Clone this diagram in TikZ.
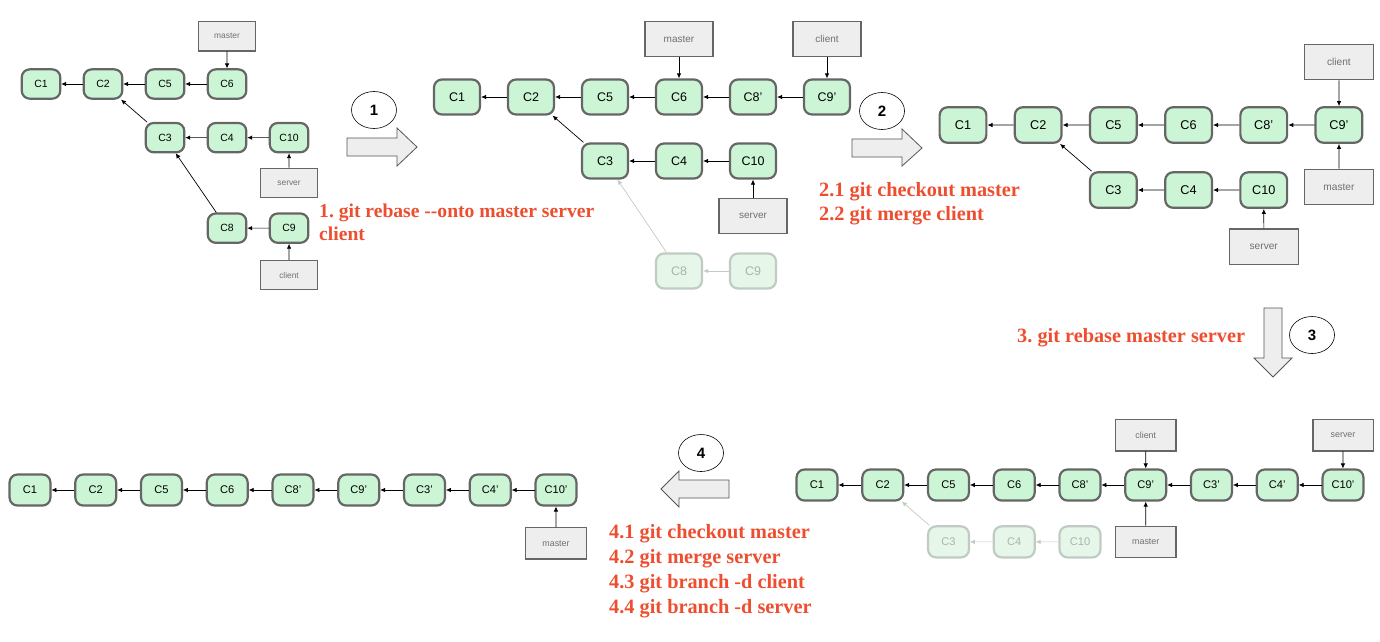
\documentclass[tikz,border=0pt]{standalone}
\usepackage{fontspec}
\setmainfont{Liberation Serif}
\setsansfont{Liberation Sans}
\usepackage{tikz}
\usetikzlibrary{shapes,arrows,arrows.meta,positioning,calc}
\usepackage{xcolor}
\frenchspacing
\definecolor{commitfill}{RGB}{203,245,212}
\definecolor{commitline}{RGB}{102,102,102}
\definecolor{ghostfill}{RGB}{230,246,233}
\definecolor{ghostline}{RGB}{192,204,195}
\definecolor{ghosttext}{RGB}{168,182,172}
\definecolor{reffill}{RGB}{238,238,238}
\definecolor{reftext}{RGB}{112,112,112}
\definecolor{cmdred}{RGB}{238,78,48}
\definecolor{arrowline}{RGB}{85,85,85}

\tikzset{
  commit/.style={draw=commitline, fill=commitfill, line width=2.2pt, rounded corners=8pt,
    minimum width=46pt, minimum height=35pt, inner sep=0pt,
    font=\sffamily\fontsize{12.5}{15}\selectfont},
  ghost/.style={commit, draw=ghostline, fill=ghostfill, text=ghosttext},
  branch/.style={draw=commitline, fill=reffill, line width=1.4pt, minimum width=68pt,
    minimum height=35pt, inner sep=0pt, text=reftext,
    font=\sffamily\fontsize{10}{12}\selectfont},
  parent/.style={-{Latex[length=5pt,width=4.5pt]}, line width=0.7pt},
  oldparent/.style={parent, draw=ghostline},
  stepno/.style={draw, ellipse, fill=white, line width=0.6pt, minimum width=45pt,
    minimum height=37pt, inner sep=0pt, font=\sffamily\bfseries\fontsize{15}{18}\selectfont},
  cmd/.style={text=cmdred, font=\bfseries\fontsize{20.3}{24}\selectfont, align=left,
    anchor=north west, inner sep=0pt},
  bigarrow/.style={draw=arrowline, fill=reffill, line width=0.8pt}
}

\begin{document}
\begin{tikzpicture}[x=1pt, y=1pt]
            \useasboundingbox (0,0) rectangle (1380,-641);
            % before: client branched off server
            \begin{scope}[shift={(41,-84)}, scale=0.838, transform shape]
                \foreach \n/\t [count=\i from 0] in {1/C1,2/C2,5/C5,6/C6}
                    \node[commit] (a\n) at (74*\i,0) {\t};
                \node[commit] (a3) at (148,-64) {C3};
                \node[commit] (a4) at (222,-64) {C4};
                \node[commit] (a10) at (296,-64) {C10};
                \node[commit] (a8) at (222,-172) {C8};
                \node[commit] (a9) at (296,-172) {C9};
                \node[branch] (amaster) at (222,57) {master};
                \node[branch] (aserver) at (296,-118) {server};
                \node[branch] (aclient) at (296,-228) {client};
                \foreach \a/\b in {a2/a1,a5/a2,a6/a5,a3/a2,a4/a3,a10/a4,a8/a3,a9/a8}
                    \draw[parent] (\a) -- (\b);
                \draw[parent] (amaster) -- (a6);
                \draw[parent] (aserver) -- (a10);
                \draw[parent] (aclient) -- (a9);
            \end{scope}
            % step 1
            \node[stepno] (s1) at (374,-110) {1};
            \draw[bigarrow] (347,-138) -- (397,-138) -- (397,-128) -- (417,-147)
                -- (397,-166) -- (397,-156) -- (347,-156) -- cycle;
            \node[cmd, font=\bfseries\fontsize{19.6}{23}\selectfont] (cmd1) at (319,-204)
                {1. git rebase -{}-onto master server\\client};
            % after rebase --onto
            \begin{scope}[shift={(457,-97)}]
                \foreach \n/\t [count=\i from 0] in {1/C1,2/C2,5/C5,6/C6,8p/C8',9p/C9'}
                    \node[commit] (b\n) at (74*\i,0) {\t};
                \node[commit] (b3) at (148,-64) {C3};
                \node[commit] (b4) at (222,-64) {C4};
                \node[commit] (b10) at (296,-64) {C10};
                \node[ghost] (b8) at (222,-174) {C8};
                \node[ghost] (b9) at (296,-174) {C9};
                \node[branch] (bmaster) at (222,58) {master};
                \node[branch] (bclient) at (370,58) {client};
                \node[branch] (bserver) at (296,-119) {server};
                \foreach \a/\b in {b2/b1,b5/b2,b6/b5,b8p/b6,b9p/b8p,b3/b2,b4/b3,b10/b4}
                    \draw[parent] (\a) -- (\b);
                \draw[oldparent] (b8) -- (b3);
                \draw[oldparent] (b9) -- (b8);
                \draw[parent] (bmaster) -- (b6);
                \draw[parent] (bclient) -- (b9p);
                \draw[parent] (bserver) -- (b10);
            \end{scope}
            % step 2
            \node[stepno] (s2) at (882,-111) {2};
            \draw[bigarrow] (852,-139) -- (902,-139) -- (902,-129) -- (922,-148)
                -- (902,-166) -- (902,-157) -- (852,-157) -- cycle;
            \node[cmd] (cmd2) at (819,-182) {2.1 git checkout master\\2.2 git merge client};
            % after fast-forward of master
            \begin{scope}[shift={(963,-125)}, scale=1.016, transform shape]
                \foreach \n/\t [count=\i from 0] in {1/C1,2/C2,5/C5,6/C6,8p/C8',9p/C9'}
                    \node[commit] (c\n) at (74*\i,0) {\t};
                \node[commit] (c3) at (148,-64) {C3};
                \node[commit] (c4) at (222,-64) {C4};
                \node[commit] (c10) at (296,-64) {C10};
                \node[branch] (cclient) at (370,62) {client};
                \node[branch] (cmaster) at (370,-61) {master};
                \node[branch] (cserver) at (296,-120) {server};
                \foreach \a/\b in {c2/c1,c5/c2,c6/c5,c8p/c6,c9p/c8p,c3/c2,c4/c3,c10/c4}
                    \draw[parent] (\a) -- (\b);
                \draw[parent] (cclient) -- (c9p);
                \draw[parent] (cmaster) -- (c9p);
                \draw[parent] (cserver) -- (c10);
            \end{scope}
            % step 3
            \node[stepno] (s3) at (1312,-335) {3};
            \draw[bigarrow] (1264,-308) -- (1282,-308) -- (1282,-358) -- (1292,-358)
                -- (1273,-377) -- (1254,-358) -- (1264,-358) -- cycle;
            \node[cmd, anchor=base west] (cmd3) at (1017,-342) {3. git rebase master server};
            % after rebase of server
            \begin{scope}[shift={(817,-485)}, scale=0.8885, transform shape]
                \foreach \n/\t [count=\i from 0] in {1/C1,2/C2,5/C5,6/C6,8p/C8',9p/C9',3p/C3',4p/C4',10p/C10'}
                    \node[commit] (d\n) at (74*\i,0) {\t};
                \node[ghost] (d3) at (148,-64) {C3};
                \node[ghost] (d4) at (222,-64) {C4};
                \node[ghost] (d10) at (296,-64) {C10};
                \node[branch] (dclient) at (370,56) {client};
                \node[branch] (dserver) at (592,56) {server};
                \node[branch] (dmaster) at (370,-64) {master};
                \foreach \a/\b in {d2/d1,d5/d2,d6/d5,d8p/d6,d9p/d8p,d3p/d9p,d4p/d3p,d10p/d4p}
                    \draw[parent] (\a) -- (\b);
                \foreach \a/\b in {d3/d2,d4/d3,d10/d4}
                    \draw[oldparent] (\a) -- (\b);
                \draw[parent] (dclient) -- (d9p);
                \draw[parent] (dserver) -- (d10p);
                \draw[parent] (dmaster) -- (d9p);
            \end{scope}
            % step 4
            \node[stepno] (s4) at (701,-453) {4};
            \draw[bigarrow] (729,-480) -- (679,-480) -- (679,-471) -- (661,-489)
                -- (679,-507) -- (679,-498) -- (729,-498) -- cycle;
            \node[cmd, font=\bfseries\fontsize{20.3}{25}\selectfont] (cmd4) at (609,-524)
                {4.1 git checkout master\\4.2 git merge server\\4.3 git branch -d client\\4.4 git branch -d server};
            % final history
            \begin{scope}[shift={(30,-490)}, scale=0.8885, transform shape]
                \foreach \n/\t [count=\i from 0] in {1/C1,2/C2,5/C5,6/C6,8p/C8',9p/C9',3p/C3',4p/C4',10p/C10'}
                    \node[commit] (e\n) at (74*\i,0) {\t};
                \node[branch] (emaster) at (592,-60) {master};
                \foreach \a/\b in {e2/e1,e5/e2,e6/e5,e8p/e6,e9p/e8p,e3p/e9p,e4p/e3p,e10p/e4p}
                    \draw[parent] (\a) -- (\b);
                \draw[parent] (emaster) -- (e10p);
            \end{scope}
\end{tikzpicture}
\end{document}
